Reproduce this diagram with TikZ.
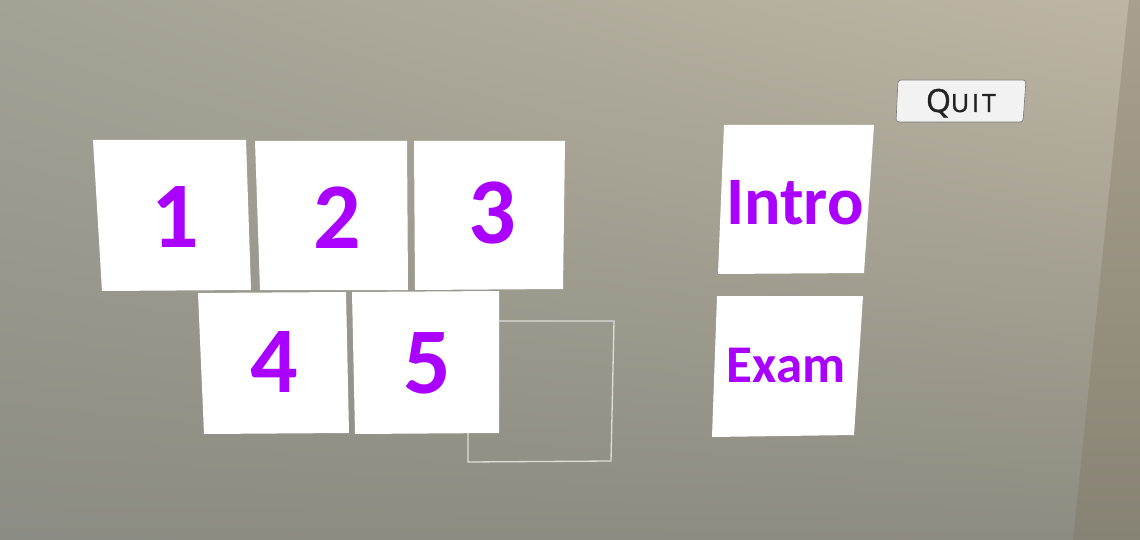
\documentclass[tikz,border=0pt]{standalone}
\usepackage{fontspec}
\usetikzlibrary{shadings}
\setmainfont{Carlito}
\newfontfamily\btnfont[RawFeature={embolden=1.3}]{Open Sans}
\definecolor{wallUL}{RGB}{164,162,149}
\definecolor{wallUR}{RGB}{189,182,164}
\definecolor{wallLL}{RGB}{139,140,131}
\definecolor{wallLR}{RGB}{142,140,128}
\definecolor{sideT}{RGB}{168,160,142}
\definecolor{sideB}{RGB}{135,131,116}
\definecolor{purp}{RGB}{170,0,255}
\definecolor{btnfill}{RGB}{242,242,242}
\definecolor{btnline}{RGB}{120,120,118}
\definecolor{btntext}{RGB}{35,35,35}
\definecolor{frameline}{RGB}{222,222,216}

\begin{document}
\begin{tikzpicture}[x=1pt,y=-1pt,
    card/.style={fill=white},
    lbl/.style={text=purp,inner sep=0pt,anchor=base},
    num/.style={lbl,font=\bfseries\fontsize{94}{94}\selectfont},
    frame/.style={draw=frameline,line width=1.3pt},
    btn/.style={fill=btnfill,draw=btnline,line width=0.6pt,rounded corners=3pt}]
    \useasboundingbox (0,0) rectangle (1140,540);
    % wall
    \shade[upper left=wallUL,upper right=wallUR,lower left=wallLL,lower right=wallLR] (0,0) rectangle (1140,540);
    \shade[top color=sideT,bottom color=sideB] (1129,0) -- (1140,0) -- (1140,540) -- (1073,540) -- cycle;
    % empty slot
    \draw[frame] (468,321) -- (614,321) -- (611,461) -- (468,462) -- cycle;
    % number cards
    \fill[card] (93,140) -- (246,140) -- (251,290) -- (102,291) -- cycle;
    \fill[card] (255,141) -- (407,141) -- (408,290) -- (260,290) -- cycle;
    \fill[card] (414,141) -- (565,141) -- (563,289) -- (415,290) -- cycle;
    \fill[card] (198,293) -- (346,292) -- (349,433) -- (204,434) -- cycle;
    \fill[card] (352,292) -- (499,291) -- (499,433) -- (355,434) -- cycle;
    \node[num] (one) at (175,247) {1};
    \node[num] (two) at (337,248) {2};
    \node[num] (three) at (492,243) {3};
    \node[num] (four) at (274,392) {4};
    \node[num] (five) at (427,393) {5};
    % menu cards
    \fill[card] (724,125) -- (874,125) -- (864,273) -- (718,274) -- cycle;
    \fill[card] (717,296) -- (863,296) -- (854,435) -- (712,437) -- cycle;
    \node[lbl,font=\bfseries\fontsize{68}{68}\selectfont] (intro) at (795,225) {Intro};
    \node[lbl,font=\bfseries\fontsize{53}{53}\selectfont] (exam) at (786,382) {Exam};
    % quit button
    \draw[btn] (898,80) -- (1026,80) -- (1023,122) -- (896,122) -- cycle;
    \node[inner sep=0pt,anchor=base,text=btntext,font=\btnfont] (quit) at (961,112)
        {\fontsize{32}{32}\selectfont Q\fontsize{25}{25}\selectfont U\kern3pt I\kern3pt T};
\end{tikzpicture}
\end{document}
